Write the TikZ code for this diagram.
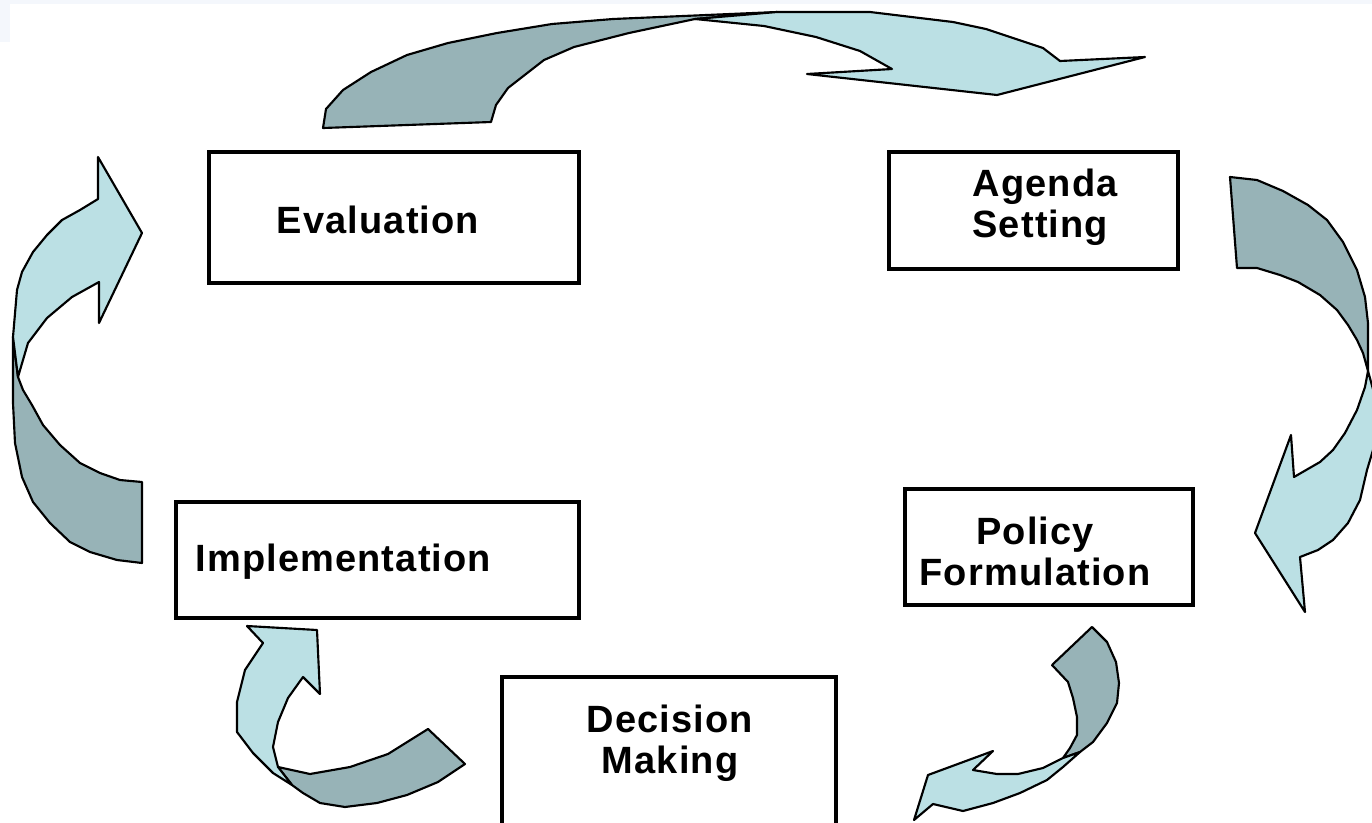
\documentclass[tikz,border=0pt]{standalone}
\usepackage{fontspec}
\newfontfamily\stagefont[LetterSpace=3.0]{Liberation Sans}

\definecolor{banddark}{RGB}{151,179,183}
\definecolor{bandlight}{RGB}{187,224,228}
\definecolor{slideedge}{RGB}{244,247,252}

\tikzset{every picture/.style={line width=0.75pt}}
\tikzset{
  stagebox/.style={draw, line width=2.8pt, fill=white, inner sep=0pt},
  stagetext/.style={font=\stagefont\bfseries\fontsize{28.5}{31}\selectfont, inner sep=0pt},
  bandback/.style={draw, fill=banddark, line width=1.6pt, line join=round},
  bandfront/.style={draw, fill=bandlight, line width=1.6pt, line join=round}
}

\begin{document}
\begin{tikzpicture}[x=0.75pt,y=0.75pt,yscale=-1,xscale=1]
	\useasboundingbox (0,0) rectangle (1372,822);
	\clip (0,0) rectangle (1372,822);

	%Shape: slide edge
	\fill [slideedge] (0,0) rectangle (1372,4) ;
	\fill [slideedge] (0,0) rectangle (10,42) ;

	%Shape: Curved Arrow top
	\draw [bandback] (323,128) -- (326,109) -- (343,90) -- (371,72) -- (407,55) -- (448,43) -- (497,33) -- (552,24) -- (613,19) -- (777,12) -- (695,19) -- (629,33) -- (574,47) -- (544,60) -- (508,88) -- (496,105) -- (491,122) -- cycle ;
	\draw [bandfront] (695,19) -- (777,12) -- (870,12) -- (953,22) -- (986,29) -- (1043,48) -- (1060,61) -- (1145,57) -- (997,95) -- (807,74) -- (892,69) -- (860,51) -- (816,37) -- (764,26) -- cycle ;

	%Shape: Curved Arrow right
	\draw [bandback] (1230,177) -- (1257,180) -- (1283,191) -- (1308,205) -- (1327,220) -- (1343,242) -- (1357,270) -- (1365,297) -- (1368,323) -- (1368,371) -- (1363,353) -- (1357,340) -- (1348,325) -- (1337,310) -- (1320,295) -- (1298,282) -- (1280,275) -- (1257,268) -- (1237,268) -- cycle ;
	\draw [bandfront] (1368,371) -- (1376,400) -- (1376,440) -- (1367,470) -- (1360,500) -- (1348,523) -- (1333,540) -- (1318,550) -- (1300,557) -- (1305,612) -- (1255,533) -- (1291,435) -- (1294,477) -- (1320,462) -- (1333,450) -- (1345,433) -- (1357,410) -- (1365,387) -- cycle ;

	%Shape: Curved Arrow bottom right
	\draw [bandback] (1052,665) -- (1092,627) -- (1107,642) -- (1116,662) -- (1119,683) -- (1117,703) -- (1107,723) -- (1093,742) -- (1080,752) -- (1063,758) -- (1070,748) -- (1077,735) -- (1077,717) -- (1073,698) -- (1068,682) -- cycle ;
	\draw [bandfront] (1080,752) -- (1063,767) -- (1047,780) -- (1020,793) -- (993,803) -- (963,811) -- (933,804) -- (914,820) -- (928,775) -- (993,751) -- (973,770) -- (997,774) -- (1018,774) -- (1043,768) -- (1063,758) -- cycle ;

	%Shape: Curved Arrow bottom left
	\draw [bandback] (278,767) -- (310,774) -- (350,767) -- (388,754) -- (428,729) -- (465,764) -- (438,782) -- (407,795) -- (377,803) -- (345,807) -- (320,803) -- (303,793) -- (292,785) -- cycle ;
	\draw [bandfront] (247,626) -- (317,630) -- (320,694) -- (303,677) -- (288,698) -- (278,722) -- (273,747) -- (278,767) -- (292,785) -- (273,773) -- (253,753) -- (237,732) -- (237,702) -- (245,670) -- (263,643) -- cycle ;

	%Shape: Curved Arrow left
	\draw [bandback] (13,337) -- (18,377) -- (23,390) -- (32,405) -- (43,425) -- (60,445) -- (80,463) -- (100,473) -- (120,480) -- (142,482) -- (142,563) -- (117,560) -- (90,552) -- (70,542) -- (50,523) -- (33,502) -- (22,477) -- (15,443) -- (13,403) -- cycle ;
	\draw [bandfront] (13,337) -- (17,290) -- (22,272) -- (33,252) -- (47,235) -- (62,220) -- (80,210) -- (98,199) -- (98,157) -- (142,233) -- (99,323) -- (99,282) -- (72,297) -- (47,318) -- (28,343) -- (18,377) -- cycle ;

	% Boxes
	\node [stagebox, minimum width=277.5pt, minimum height=98.25pt] (evaluation) at (394,217.5) {};
	\node [stagebox, minimum width=216.75pt, minimum height=87.75pt] (agenda) at (1033.5,210.5) {};
	\node [stagebox, minimum width=216pt, minimum height=87pt] (policy) at (1049,547) {};
	\node [stagebox, minimum width=250.5pt, minimum height=114.75pt] (decision) at (669,753.5) {};
	\node [stagebox, minimum width=302.25pt, minimum height=87pt] (implementation) at (377.5,560) {};

	% Text Node
	\node [stagetext, anchor=base] (evaluationtext) at (378,233.5) {Evaluation};
	% Text Node
	\node [stagetext, anchor=north west, align=left] (agendatext) at (972,168) {Agenda\\Setting};
	% Text Node
	\node [stagetext, anchor=north, align=center] (policytext) at (1035,516) {Policy\\Formulation};
	% Text Node
	\node [stagetext, anchor=north, align=center] (decisiontext) at (670,704) {Decision\\Making};
	% Text Node
	\node [stagetext, anchor=base west] (implementationtext) at (195,571.5) {Implementation};

\end{tikzpicture}
\end{document}
